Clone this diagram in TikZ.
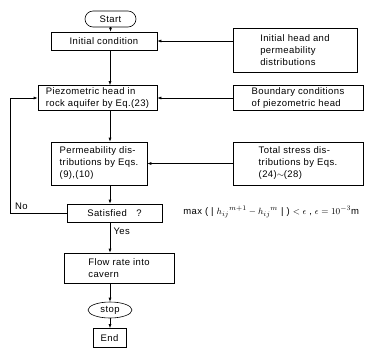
\documentclass[tikz,border=0pt]{standalone}
\usepackage{fontspec}
\setmainfont[LetterSpace=4]{Liberation Sans}
\usetikzlibrary{arrows.meta,shapes.geometric}

\begin{document}
\begin{tikzpicture}[
  x=1pt, y=-1pt,
  line width=0.6pt,
  font=\fontsize{9.5}{12}\selectfont,
  box/.style={draw, align=left, inner sep=0pt},
  flow/.style={-{Latex[length=4pt,width=3pt]}}
]
\useasboundingbox (0,0) rectangle (382,349);

\coordinate (axis) at (110,0);
\coordinate (back) at (10,0);

\node [box, rounded corners=8pt, minimum width=51pt, minimum height=16pt] (start) at (110.5,19) {Start};
\node [box, minimum width=106pt, minimum height=18pt] (init) at (104,41) {Initial condition};
\node [box, minimum width=124pt, minimum height=44pt] (ihead) at (295,50.5) {Initial head and\\permeability\\distributions};

\node [box, minimum width=119pt, minimum height=25pt] (piezo) at (97.5,98) {Piezometric head in\\rock aquifer by Eq.(23)};
\node [box, minimum width=130pt, minimum height=25pt] (bound) at (298,98) {Boundary conditions\\of piezometric head};

\node [box, minimum width=96pt, minimum height=43pt] (perm) at (99,163.5) {Permeability dis-\\tributions by Eqs.\\(9),(10)};
\node [box, minimum width=130pt, minimum height=43pt] (stress) at (298,163.5) {Total stress dis-\\tributions by Eqs.\\(24)$\sim$(28)};

\node [box, minimum width=95pt, minimum height=18pt] (satis) at (114.5,213) {Satisfied\quad ?};
\node [anchor=west, inner sep=0pt] (crit) at (183,212) {max ( | $h_{ij}{}^{m+1}-h_{ij}{}^{m}$ | ) $<\epsilon$ , $\epsilon=10^{-3}$m};

\node [box, minimum width=110pt, minimum height=30pt] (flow) at (119,268) {Flow rate into\\cavern};
\node [draw, ellipse, minimum width=44pt, minimum height=16pt, inner sep=0pt] (stop) at (110,310) {stop};
\node [box, minimum width=33pt, minimum height=19pt] (endb) at (109.5,338) {End};

\draw [flow] (start) -- (start |- init.north);
\draw [flow] (ihead.west |- init) -- (init.east);
\draw [flow] (axis |- init.south) -- (axis |- piezo.north);
\draw [flow] (bound) -- (piezo);
\draw [flow] (axis |- piezo.south) -- (axis |- perm.north);
\draw [flow] (stress) -- (perm);
\draw [flow] (axis |- perm.south) -- (axis |- satis.north);
\draw [flow] (satis.west) -- node [pos=0.8, above] (no) {No} (back |- satis) -- (back |- piezo) -- (piezo.west);
\draw [flow] (axis |- satis.south) -- node [pos=0.3, right] (yes) {Yes} (axis |- flow.north);
\draw [flow] (axis |- flow.south) -- (axis |- stop.north);
\draw [flow] (axis |- stop.south) -- (axis |- endb.north);

\end{tikzpicture}
\end{document}
